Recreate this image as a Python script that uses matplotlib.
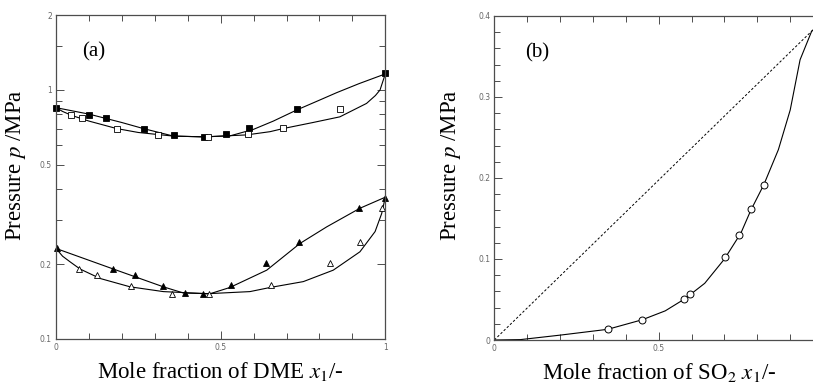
import matplotlib
matplotlib.use("Agg")
import matplotlib.pyplot as plt
from matplotlib.ticker import FixedLocator, FixedFormatter, MultipleLocator

plt.rcParams['font.family'] = ['Liberation Serif', 'DejaVu Serif']
plt.rcParams['mathtext.fontset'] = 'stix'

# ---- (a) DME system, two isotherms ----
# upper isotherm, measured points
hi_bub_x = [0.0, 0.10, 0.152, 0.267, 0.357, 0.449, 0.517, 0.587, 0.731, 1.0]
hi_bub_p = [0.849, 0.796, 0.769, 0.700, 0.659, 0.647, 0.667, 0.705, 0.836, 1.17]
hi_dew_x = [0.046, 0.079, 0.185, 0.310, 0.462, 0.582, 0.688, 0.862]
hi_dew_p = [0.796, 0.769, 0.700, 0.659, 0.647, 0.667, 0.705, 0.836]
# upper isotherm, correlated curves
hi_bub_cx = [0.0, 0.10, 0.20, 0.265, 0.356, 0.45, 0.53, 0.60, 0.66, 0.731, 0.80, 0.852, 0.92, 1.0]
hi_bub_cp = [0.849, 0.80, 0.74, 0.70, 0.653, 0.648, 0.655, 0.695, 0.75, 0.831, 0.91, 0.975, 1.06, 1.16]
hi_dew_cx = [0.0, 0.02, 0.048, 0.10, 0.184, 0.25, 0.311, 0.356, 0.45, 0.579, 0.65, 0.69, 0.78,
             0.862, 0.943, 0.97, 0.984, 1.0]
hi_dew_cp = [0.849, 0.82, 0.79, 0.75, 0.70, 0.675, 0.662, 0.653, 0.648, 0.66, 0.68, 0.70, 0.74,
             0.78, 0.883, 0.95, 1.0, 1.16]

# lower isotherm, measured points
lo_bub_x = [0.002, 0.174, 0.241, 0.324, 0.393, 0.445, 0.531, 0.638, 0.737, 0.919, 1.0]
lo_bub_p = [0.231, 0.191, 0.181, 0.163, 0.153, 0.152, 0.165, 0.202, 0.245, 0.335, 0.367]
lo_dew_x = [0.071, 0.124, 0.227, 0.353, 0.464, 0.652, 0.832, 0.923, 0.989]
lo_dew_p = [0.191, 0.181, 0.163, 0.152, 0.152, 0.165, 0.202, 0.245, 0.336]
# lower isotherm, correlated curves
lo_bub_cx = [0.0, 0.174, 0.326, 0.387, 0.468, 0.528, 0.64, 0.741, 0.822, 0.923, 1.0]
lo_bub_cp = [0.231, 0.191, 0.162, 0.153, 0.152, 0.161, 0.189, 0.242, 0.282, 0.335, 0.371]
lo_dew_cx = [0.0, 0.02, 0.043, 0.073, 0.134, 0.225, 0.326, 0.46, 0.589, 0.65, 0.751, 0.842,
             0.923, 0.969, 0.989, 1.0]
lo_dew_cp = [0.231, 0.215, 0.204, 0.191, 0.175, 0.162, 0.155, 0.152, 0.155, 0.161, 0.170, 0.189,
             0.224, 0.270, 0.319, 0.371]

# ---- (b) SO2 system ----
so2_x = [0.345, 0.45, 0.576, 0.596, 0.703, 0.744, 0.781, 0.819]
so2_p = [0.0132, 0.0247, 0.0506, 0.0564, 0.1025, 0.1296, 0.1617, 0.191]
so2_cx = [0.0, 0.08, 0.20, 0.345, 0.45, 0.52, 0.58, 0.64, 0.70, 0.75, 0.78, 0.82, 0.864,
          0.90, 0.93, 0.965, 1.0]
so2_cp = [0.0, 0.0005, 0.006, 0.0132, 0.025, 0.036, 0.051, 0.070, 0.100, 0.132, 0.160, 0.192,
          0.235, 0.284, 0.346, 0.381, 0.395]
raoult_x = [0.0, 1.0]
raoult_p = [0.0, 0.395]

W, H = 813, 387
fig = plt.figure(figsize=(W / 100, H / 100), dpi=100)
axa = fig.add_axes([56 / W, 1 - 339 / H, 329.3 / W, 324 / H])
axb = fig.add_axes([494.3 / W, 1 - 340 / H, 328.8 / W, 324 / H])

spine_c = '#4d4d4d'
for ax in (axa, axb):
    for s in ax.spines.values():
        s.set_color(spine_c)
        s.set_linewidth(0.9)
    ax.tick_params(which='both', direction='in', top=True, right=True, color=spine_c,
                   width=0.7, labelsize=5.5, labelcolor='#666666', pad=3,
                   labelfontfamily='DejaVu Sans')
    ax.tick_params(which='major', length=6)
    ax.tick_params(which='minor', length=4)

lw = 0.8
# (a)
axa.plot(hi_bub_cx, hi_bub_cp, color='black', lw=lw)
axa.plot(hi_dew_cx, hi_dew_cp, color='black', lw=lw)
axa.plot(lo_bub_cx, lo_bub_cp, color='black', lw=lw)
axa.plot(lo_dew_cx, lo_dew_cp, color='black', lw=lw)
axa.plot(hi_bub_x, hi_bub_p, 's', ms=3.8, mfc='black', mec='black', mew=0.6, clip_on=False)
axa.plot(hi_dew_x, hi_dew_p, 's', ms=3.8, mfc='white', mec='black', mew=0.6, clip_on=False)
axa.plot(lo_bub_x, lo_bub_p, '^', ms=4.2, mfc='black', mec='black', mew=0.6, clip_on=False)
axa.plot(lo_dew_x, lo_dew_p, '^', ms=4.2, mfc='white', mec='black', mew=0.6, clip_on=False)

axa.set_yscale('log')
axa.set_xlim(0, 1)
axa.set_ylim(0.1, 2)
axa.xaxis.set_major_locator(FixedLocator([0, 0.5, 1]))
axa.xaxis.set_major_formatter(FixedFormatter(['0', '0.5', '1']))
axa.xaxis.set_minor_locator(MultipleLocator(0.1))
axa.yaxis.set_major_locator(FixedLocator([0.1, 0.2, 0.5, 1, 2]))
axa.yaxis.set_major_formatter(FixedFormatter(['0.1', '0.2', '0.5', '1', '2']))
axa.yaxis.set_minor_locator(FixedLocator([0.3, 0.4, 0.6, 0.7, 0.8, 0.9, 1.5]))
axa.yaxis.set_minor_formatter(FixedFormatter([]))
axa.text(0.08, 0.885, '(a)', transform=axa.transAxes, fontsize=15, va='center')
axa.set_xlabel(r'Mole fraction of DME $x_1$/-', fontsize=16.5)
axa.set_ylabel(r'Pressure $p$ /MPa', fontsize=16.5)

# (b)
axb.plot(raoult_x, raoult_p, color='black', lw=0.7, ls=(0, (2.5, 2)))
axb.plot(so2_cx, so2_cp, color='black', lw=lw)
axb.plot(so2_x, so2_p, 'o', ms=5, mfc='white', mec='black', mew=0.7)
axb.set_xlim(0, 1)
axb.set_ylim(0, 0.4)
axb.xaxis.set_major_locator(FixedLocator([0, 0.5, 1]))
axb.xaxis.set_major_formatter(FixedFormatter(['0', '0.5', '']))
axb.xaxis.set_minor_locator(MultipleLocator(0.1))
axb.yaxis.set_major_locator(FixedLocator([0, 0.1, 0.2, 0.3, 0.4]))
axb.yaxis.set_major_formatter(FixedFormatter(['0', '0.1', '0.2', '0.3', '0.4']))
axb.yaxis.set_minor_locator(MultipleLocator(0.02))
axb.text(0.094, 0.885, '(b)', transform=axb.transAxes, fontsize=15, va='center')
axb.set_xlabel(r'Mole fraction of SO$_2$ $x_1$/-', fontsize=16.5)
axb.set_ylabel(r'Pressure $p$ /MPa', fontsize=16.5)

axa.xaxis.set_label_coords(0.5, -0.065)
axb.xaxis.set_label_coords(0.5, -0.065)
axa.yaxis.set_label_coords(-0.085, 0.537)
axb.yaxis.set_label_coords(-0.095, 0.54)

fig.savefig('out.png', dpi=100)
